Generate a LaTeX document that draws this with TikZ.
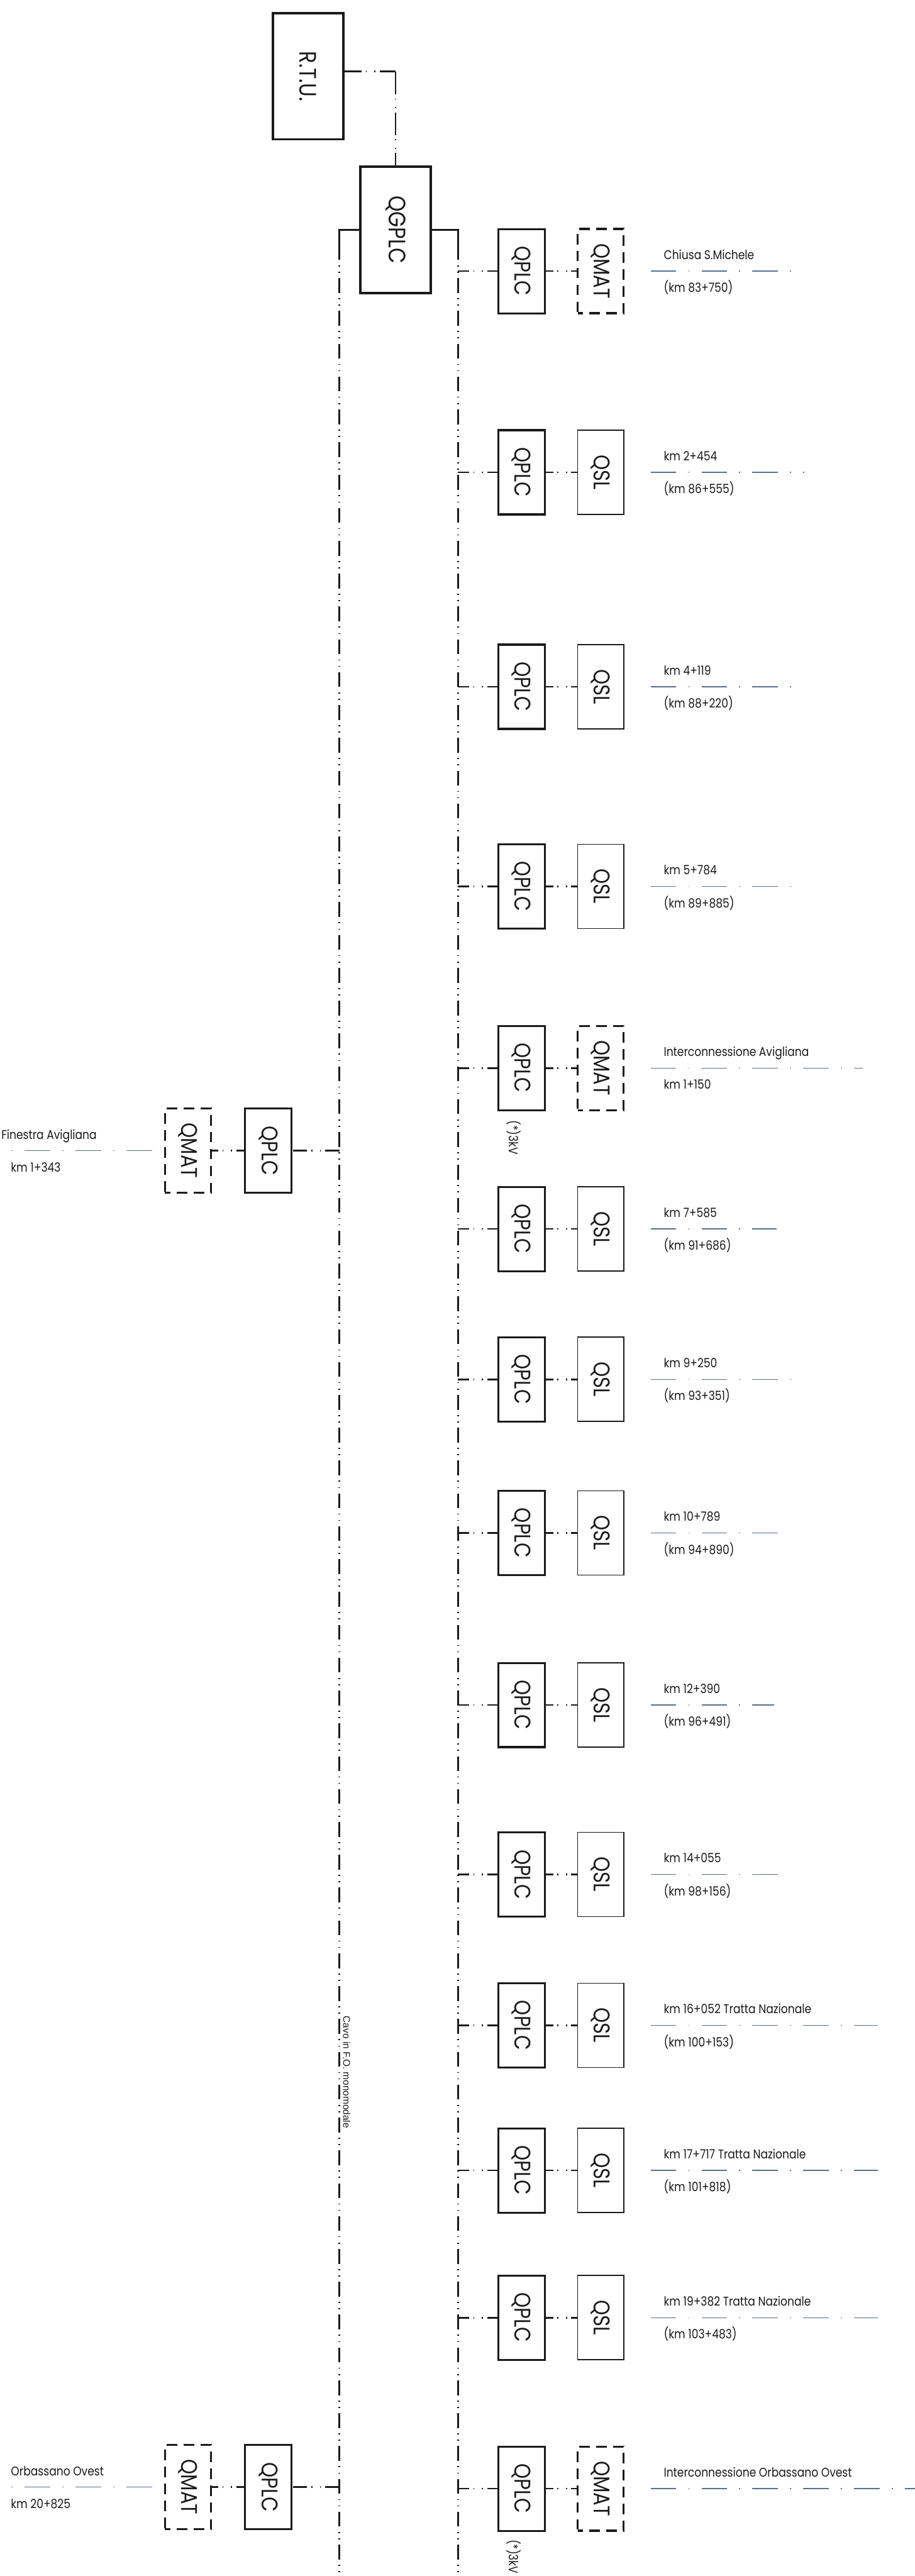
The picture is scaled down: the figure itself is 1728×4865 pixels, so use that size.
\documentclass[tikz,border=0pt]{standalone}
\usepackage{fontspec}
\usepackage{graphicx}
\usetikzlibrary{positioning,calc}
\newfontfamily\boxfont{Poppins}[FakeStretch=0.85]
\newfontfamily\cablefont{Liberation Sans}
\definecolor{inkblack}{HTML}{1A1A1A}
\definecolor{trackblue}{HTML}{56708F}
\tikzset{
  unit/.style={
    rectangle, draw=inkblack, line width=1.05pt, inner sep=0pt,
    minimum width=0.88cm, minimum height=1.59cm,
    font=\boxfont\fontsize{12.2pt}{12.5pt}\selectfont, text=inkblack
  },
  plc/.style={unit},
  qsl/.style={unit, line width=0.6pt, minimum width=0.87cm},
  qmat/.style={unit, line width=1.1pt, minimum width=0.87cm,
    dash pattern=on 0.2cm off 0.12cm, dash phase=0.1cm},
  mainbox/.style={unit, line width=1.3pt, minimum width=1.33cm, minimum height=2.38cm,
    font=\boxfont\fontsize{12.8pt}{13pt}\selectfont},
  wire/.style={line width=0.9pt, draw=inkblack},
  bus/.style={wire, dash pattern=on 0.28cm off 0.1cm on 0.02cm off 0.1cm on 0.02cm off 0.1cm},
  link/.style={wire, dash pattern=on #1 off 0.08cm on 0.02cm off 0.14cm on 0.02cm off 0.08cm},
  track/.style={line width=0.45pt, draw=trackblue, dash pattern=on 0.48cm off 0.23cm on 0.02cm off 0.23cm},
  station/.style={font=\boxfont\fontsize{6.8pt}{8pt}\selectfont, text=inkblack, inner sep=0pt, anchor=base west},
  note/.style={font=\boxfont\fontsize{6.8pt}{8pt}\selectfont, text=inkblack, inner sep=0pt, rotate=-90, anchor=west},
  cable/.style={font=\cablefont\fontsize{5.2pt}{6pt}\selectfont, text=inkblack, inner sep=0pt, rotate=-90, anchor=west}
}
\newcommand{\vtext}[1]{\rotatebox{-90}{#1}}
% right side: QPLC + QSL/QMAT, track line and kilometre labels
\newcommand{\feeder}[7]{
  \node[plc] (p#1) at (985,#2) {\vtext{QPLC}};
  \node[#3] (s#1) at (1134.5,#2) {\vtext{#4}};
  \coordinate (b#1) at (865,#2);
  \draw[link=0.21cm] (b#1) -- (p#1.west);
  \draw[link=0.14cm] (p#1.east) -- (s#1.west);
  \coordinate (ta#1) at (1229,#2);
  \coordinate (tb#1) at (#7,#2);
  \draw[track] (ta#1) -- (tb#1);
  \node[station] (u#1) at (1253,#2-22) {#5};
  \if\relax\detokenize{#6}\relax\else
    \node[station] (d#1) at (1253,#2+40) {#6};
  \fi
}
% left side: QMAT + QPLC towards the other bus
\newcommand{\branch}[5]{
  \node[qmat] (lm#1) at (355,#2) {\vtext{QMAT}};
  \node[plc] (lp#1) at (507,#2) {\vtext{QPLC}};
  \coordinate (lb#1) at (641,#2);
  \draw[link=0.27cm] (lb#1) -- (lp#1.east);
  \draw[link=0.15cm] (lp#1.west) -- (lm#1.east);
  \coordinate (la#1) at (287,#2);
  \coordinate (le#1) at (0,#2);
  \draw[track] (la#1) -- (le#1);
  \node[station] (lu#1) at (#5,#2-22) {#3};
  \node[station] (ld#1) at (20,#2+40) {#4};
}

\begin{document}
\begin{tikzpicture}[x=0.01cm, y=-0.01cm]
\useasboundingbox (0,0) rectangle (1728,4865);
\node[mainbox] (rtu) at (582,144) {\vtext{R.T.U.}};
\node[mainbox] (qg) at (747,434) {\vtext{QGPLC}};
\coordinate (rs) at ([yshift=0.09cm]rtu.east);
\coordinate (rq) at (qg.north |- rs);
\draw[link=0.32cm] (rs) -- (rq);
\draw[link=0.43cm] (rq) -- (qg.north);
% the two fibre buses
\coordinate (lt) at (641,463);
\coordinate (lbot) at (641,4865);
\coordinate (rt) at (865,463);
\coordinate (rbot) at (865,4865);
\draw[wire] (qg.west) -| (lt);
\draw[bus] (lt) -- (lbot);
\draw[wire] (qg.east) -| (rt);
\draw[bus] (rt) -- (rbot);
\node[cable] (cavo) at (655,3807) {Cavo in F.O. monomodale};

\feeder{1}{512}{qmat}{QMAT}{Chiusa S.Michele}{(km 83+750)}{1505}
\feeder{2}{892}{qsl}{QSL}{km 2+454}{(km 86+555)}{1519}
\feeder{3}{1297}{qsl}{QSL}{km 4+119}{(km 88+220)}{1512}
\feeder{4}{1674}{qsl}{QSL}{km 5+784}{(km 89+885)}{1512}
\feeder{5}{2017}{qmat}{QMAT}{Interconnessione Avigliana}{km 1+150}{1630}
\feeder{6}{2321}{qsl}{QSL}{km 7+585}{(km 91+686)}{1467}
\feeder{7}{2605}{qsl}{QSL}{km 9+250}{(km 93+351)}{1497}
\feeder{8}{2895}{qsl}{QSL}{km 10+789}{(km 94+890)}{1476}
\feeder{9}{3220}{qsl}{QSL}{km 12+390}{(km 96+491)}{1462}
\feeder{10}{3540}{qsl}{QSL}{km 14+055}{(km 98+156)}{1485}
\feeder{11}{3825}{qsl}{QSL}{km 16+052 Tratta Nazionale}{(km 100+153)}{1658}
\feeder{12}{4099}{qsl}{QSL}{km 17+717 Tratta Nazionale}{(km 101+818)}{1658}
\feeder{13}{4377}{qsl}{QSL}{km 19+382 Tratta Nazionale}{(km 103+483)}{1658}
\feeder{14}{4700}{qmat}{QMAT}{Interconnessione Orbassano Ovest}{}{1728}
\node[note] (n5) at ($(p5.south)+(-15,17)$) {(*)3kV};
\node[note] (n14) at ($(p14.south)+(-15,14)$) {(*)3kV};

\branch{1}{2173}{Finestra Avigliana}{km 1+343}{2}
\branch{2}{4697}{Orbassano Ovest}{km 20+825}{20}
\end{tikzpicture}
\end{document}
